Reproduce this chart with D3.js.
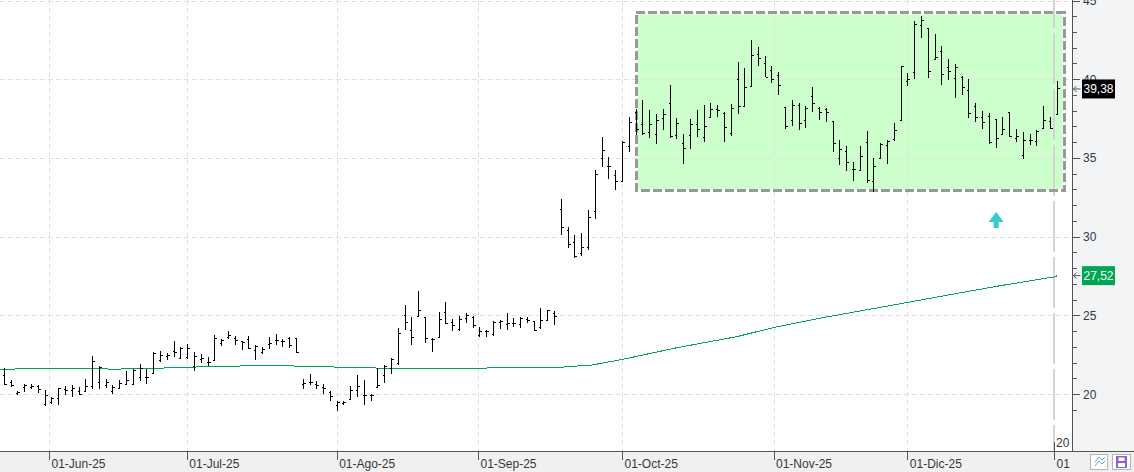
<!DOCTYPE html>
<html>
<head>
<meta charset="utf-8">
<script src="https://cdn.jsdelivr.net/npm/d3@7"></script>
<style>
  html, body { margin: 0; padding: 0; background: #fff; overflow: hidden; }
  svg { display: block; }
  text { font-family: "Liberation Sans", sans-serif; font-size: 12px; fill: #33383f; }
</style>
</head>
<body>
<div id="chart"></div>
<script>
// OHLC, one entry per session
const opens = [21.2,20.71,20.04,20.42,20.42,20.5,19.32,19.44,19.72,20.29,20.21,20.14,20.19,20.46,20.71,20.55,20.14,20.33,20.63,20.63,21.05,21.05,21.31,22.15,22.37,22.73,22.26,22.3,21.77,22.2,22.03,22.11,23.21,23.6,23.51,23.34,23.47,22.79,22.66,23.13,23.43,23.32,23.51,23.51,
  20.63,20.76,20.63,20.42,20.12,19.28,19.42,19.65,20.25,19.93,19.89,20.42,21.2,21.63,21.94,24.97,24.06,24.95,24.87,23.47,23.6,25.19,24.53,24.1,24.8,24.87,23.74,24.0,23.76,24.53,24.44,24.49,24.44,24.74,24.61,24.21,24.7,25.12,
  31.72,30.39,29.63,28.9,29.31,31.6,34.97,34.46,33.89,33.53,35.71,37.9,37.13,36.62,36.49,37.51,38.46,36.45,35.92,36.43,37.13,36.3,37.57,38.06,37.85,36.56,39.99,38.25,39.56,41.6,41.0,40.58,40.26,38.21,37.4,38.36,37.36,38.89,38.14,38.08,37.3,34.97,35.39,34.27,34.22,35.98,33.53,
  34.97,35.77,36.15,37.36,39.88,40.43,43.44,43.23,41.22,41.75,40.73,40.05,40.1,39.27,38.29,37.57,37.6,37.47,36.49,37.89,36.24,35.16,36.13,36.03,36.85,37.3,37.78];
const highs = [21.63,20.88,20.2,20.63,20.63,20.57,20.25,19.78,20.35,20.5,20.55,20.42,20.95,22.41,21.77,20.95,20.55,20.88,21.43,21.58,21.9,21.56,22.64,22.71,22.6,23.36,22.98,23.17,22.64,22.54,22.32,23.72,23.51,23.98,23.68,23.34,23.68,23.09,23.0,23.6,23.81,23.51,23.6,23.51,
  20.97,21.24,20.8,20.61,20.16,19.53,19.53,20.5,21.2,20.88,19.99,21.63,21.84,22.28,24.17,25.65,24.87,26.54,24.87,23.53,25.19,25.82,24.74,24.95,25.12,24.95,24.23,24.06,24.61,24.7,25.12,24.8,24.87,24.91,24.63,25.44,25.33,25.27,
  32.38,30.6,30.09,30.22,31.68,34.22,36.32,35.05,34.22,36.05,37.57,38.08,38.67,38.04,37.78,38.1,39.63,37.53,36.51,37.47,38.04,38.36,38.46,38.36,37.91,38.42,41.09,40.71,42.49,42.04,41.47,40.84,40.45,38.21,38.67,38.46,38.29,39.48,38.21,38.14,37.32,36.13,35.75,34.71,35.75,36.68,34.97,
  35.92,36.13,37.19,40.84,40.37,43.7,44.01,43.23,42.85,42.08,41.26,40.94,40.18,39.99,38.46,37.95,37.83,37.47,37.57,37.89,36.81,36.64,36.49,36.75,38.29,37.59,39.88];
const lows = [20.55,20.46,19.91,20.14,20.29,20.04,19.25,19.34,19.32,19.93,19.78,19.93,20.14,20.29,20.33,20.4,19.99,20.29,20.57,20.57,20.84,20.63,21.31,22.05,22.15,22.37,22.2,22.24,21.48,21.94,21.77,22.07,23.05,23.47,23.13,22.79,22.88,22.15,22.56,22.88,23.13,22.96,22.92,22.58,
  20.33,20.59,20.29,20.02,19.57,18.93,19.32,19.61,19.78,19.29,19.57,20.42,20.71,21.26,21.86,24.06,23.13,24.91,23.26,22.68,23.6,24.42,24.02,24.02,24.53,24.21,23.6,23.62,23.7,24.13,24.08,24.27,24.21,24.51,24.02,24.15,24.66,24.4,
  30.09,29.29,28.67,28.78,29.14,31.1,34.44,33.67,32.95,33.48,35.39,36.45,36.43,36.28,35.88,36.77,36.28,36.2,34.61,35.56,36.32,36.0,37.55,37.6,36.0,36.39,37.78,38.21,39.52,40.86,40.11,39.78,38.99,36.85,37.02,36.77,36.89,37.93,37.4,37.28,35.37,34.54,34.14,33.53,34.16,33.42,32.85,
  34.95,34.63,36.09,37.32,39.56,40.01,42.64,40.07,41.2,39.63,39.95,38.82,38.99,37.53,37.3,36.85,35.9,35.64,36.43,36.3,36.03,34.95,35.84,35.77,36.81,36.83,37.74];
const closes = [20.6,20.55,20.08,20.55,20.5,20.29,19.9,19.7,20.33,20.2,20.33,20.0,20.46,22.09,21.69,20.76,20.42,20.67,20.84,21.52,21.63,21.07,22.58,22.47,22.47,22.64,22.9,22.9,22.37,22.26,22.03,23.53,23.38,23.74,23.38,23.3,22.88,23.0,22.83,23.21,23.38,23.32,23.1,22.62,
  20.67,20.72,20.55,20.38,19.82,19.44,19.44,20.25,20.46,19.93,19.93,20.57,21.77,22.2,23.85,24.53,23.6,25.29,23.51,23.49,24.74,24.49,24.36,24.74,24.99,24.38,24.0,23.98,24.53,24.59,24.49,24.47,24.8,24.7,24.06,24.7,25.29,24.95,
  30.58,29.5,28.72,29.31,31.22,33.95,35.47,34.46,33.5,35.96,37.26,36.8,36.56,37.13,37.4,37.76,36.34,37.19,35.6,37.13,36.81,37.0,38.08,38.04,36.94,38.14,38.29,39.48,41.53,41.32,40.11,39.99,39.61,36.98,38.33,37.19,38.17,38.46,37.87,37.87,35.92,35.54,34.71,34.27,35.11,33.57,34.48,
  35.86,36.05,36.77,40.79,39.99,43.5,43.72,40.5,41.39,40.3,40.47,40.73,39.48,37.83,37.57,37.28,35.98,36.24,36.81,36.34,36.34,36.09,36.13,36.66,37.36,36.87,39.38];

// green average, knots by session number
const avgIdx = [-1,5.3,10.5,16.4,23.5,27.6,33.5,37.5,42.5,47.5,52.5,62.5,81.6,83.4,85.5,86.5,91,99,107.8,113.4,120.1,133,141.1,146.6,154.7,155];
const avgVal = [21.58,21.6,21.62,21.58,21.65,21.71,21.76,21.82,21.78,21.73,21.66,21.62,21.69,21.75,21.82,21.84,22.2,22.94,23.64,24.24,24.82,25.82,26.46,26.88,27.45,27.52];

const monthPos = [6.65,26.94,49,69.8,91,113.3,133,154.6];
const monthLabels = ["01-Jun-25","01-Jul-25","01-Ago-25","01-Sep-25","01-Oct-25","01-Nov-25","01-Dic-25","01"];
const priceTicks = [20,25,30,35,40,45];
const minorTicks = d3.range(19,46);

const lastClose = 39.38;
const lastAvg = 27.52;
const boxFrom = 93, boxTo = 156, boxTop = 44.22, boxBottom = 32.94;
const arrowIdx = 146, arrowPrice = 31.09;

const width = 1134, height = 472;
const axisX = 1072.5, axisY = 451.5;

const x = d3.scaleLinear().domain([0,155]).range([4.3,1057.3]);
const y = d3.scaleLinear().domain([20,45]).range([394,0.5]);
const snap = v => Math.floor(v) + 0.5;
const snapGrid = v => Math.round(v) + 0.5;

const svg = d3.select("#chart").append("svg")
  .attr("width", width).attr("height", height);

// panels
svg.append("rect").attr("x", axisX).attr("y", 0).attr("width", width-axisX).attr("height", height).attr("fill", "#f3f4f6");
svg.append("rect").attr("x", 0).attr("y", axisY).attr("width", width).attr("height", height-axisY).attr("fill", "#f0f0f0");

// highlighted box fill
svg.append("rect")
  .attr("x", x(boxFrom)+1.5).attr("y", y(boxTop)+1.5)
  .attr("width", x(boxTo)-x(boxFrom)-3).attr("height", y(boxBottom)-y(boxTop)-3)
  .attr("fill", "#ccffcc");

// grid
const grid = svg.append("g").attr("stroke", "#e1e1e1").attr("stroke-dasharray", "5,3").attr("shape-rendering", "crispEdges");
grid.selectAll(".h").data(priceTicks).join("line")
  .attr("x1", 0).attr("x2", axisX)
  .attr("y1", d => snapGrid(y(d))).attr("y2", d => snapGrid(y(d)));
grid.selectAll(".v").data(monthPos.slice(0,-1)).join("line")
  .attr("x1", d => snap(x(d))).attr("x2", d => snap(x(d)))
  .attr("y1", 0).attr("y2", axisY);

// last session marker
svg.append("line")
  .attr("x1", Math.floor(x(monthPos[7]))).attr("x2", Math.floor(x(monthPos[7])))
  .attr("y1", 0).attr("y2", axisY)
  .attr("stroke", "#d4d4d4").attr("stroke-width", 2).attr("stroke-dasharray", "51,5").attr("stroke-dashoffset", 23).attr("shape-rendering", "crispEdges");

// box border
svg.append("rect")
  .attr("x", x(boxFrom)).attr("y", y(boxTop))
  .attr("width", x(boxTo)-x(boxFrom)).attr("height", y(boxBottom)-y(boxTop))
  .attr("fill", "none").attr("stroke", "#999999").attr("stroke-width", 3).attr("stroke-dasharray", "9,3")
  .attr("shape-rendering", "crispEdges");

// average
const avgLine = d3.line().x(d => x(d[0])).y(d => y(d[1]));
svg.append("path")
  .datum(d3.zip(avgIdx, avgVal))
  .attr("d", avgLine)
  .attr("fill", "none").attr("stroke", "#00a651").attr("stroke-width", 1)
  .attr("shape-rendering", "crispEdges");

// bars
const bars = svg.append("g").attr("stroke", "#000").attr("shape-rendering", "crispEdges");
const sessions = d3.range(opens.length);
bars.selectAll(".hl").data(sessions).join("line")
  .attr("x1", i => snap(x(i))).attr("x2", i => snap(x(i)))
  .attr("y1", i => Math.round(y(highs[i]))).attr("y2", i => Math.round(y(lows[i])));
bars.selectAll(".op").data(sessions).join("line")
  .attr("x1", i => snap(x(i))-2).attr("x2", i => snap(x(i)))
  .attr("y1", i => snap(y(opens[i]))).attr("y2", i => snap(y(opens[i])));
bars.selectAll(".cl").data(sessions).join("line")
  .attr("x1", i => snap(x(i))).attr("x2", i => snap(x(i))+2)
  .attr("y1", i => snap(y(closes[i]))).attr("y2", i => snap(y(closes[i])));

// signal arrow
const ax = x(arrowIdx), ay = y(arrowPrice);
svg.append("path")
  .attr("d", `M${ax},${ay-7.5} L${ax+7.5},${ay+2.5} L${ax+2.5},${ay+2.5} L${ax+2.5},${ay+8.5} L${ax-2.5},${ay+8.5} L${ax-2.5},${ay+2.5} L${ax-7.5},${ay+2.5} Z`)
  .attr("fill", "#33cccc");

// axes
const axisStyle = g => g.attr("stroke", "#555").attr("shape-rendering", "crispEdges");
const axes = svg.append("g").call(axisStyle);
axes.append("line").attr("x1", axisX).attr("x2", axisX).attr("y1", 0).attr("y2", axisY);
axes.append("line").attr("x1", 0).attr("x2", width).attr("y1", axisY).attr("y2", axisY);
axes.selectAll(".minor").data(minorTicks).join("line")
  .attr("x1", axisX).attr("x2", d => axisX + (d % 5 === 0 ? 7 : 4))
  .attr("y1", d => snapGrid(y(d))).attr("y2", d => snapGrid(y(d)));
axes.selectAll(".mt").data(monthPos).join("line")
  .attr("x1", d => snap(x(d))).attr("x2", d => snap(x(d)))
  .attr("y1", (d,i) => i === 7 ? 442 : axisY).attr("y2", 460);

svg.selectAll(".pl").data(priceTicks).join("text")
  .attr("x", 1083).attr("y", d => y(d)+4.5).text(d => d);
svg.selectAll(".ml").data(monthPos).join("text")
  .attr("x", d => x(d)+2).attr("y", 468)
  .text((d,i) => monthLabels[i]);
svg.append("text").attr("x", 1056).attr("y", 447).text("20");

// price flags
function flag(val, bg) {
  const cy = y(val);
  svg.append("rect").attr("x", 1082).attr("y", cy-9.5).attr("width", 33).attr("height", 19).attr("fill", bg);
  svg.append("text").attr("x", 1098.5).attr("y", cy+4.5).attr("text-anchor", "middle").style("fill", "#fff").text(String(val).replace(".", ","));
  svg.append("path").attr("d", `M${axisX+8},${cy} H${axisX+1} M${axisX+4},${cy-3} L${axisX+1},${cy} L${axisX+4},${cy+3}`)
    .attr("fill", "none").attr("stroke", "#555");
}
flag(lastClose, "#000");
flag(lastAvg, "#00a651");

// the two buttons bottom right
const btn = svg.append("g");
btn.append("rect").attr("x", 1090.5).attr("y", 454.5).attr("width", 17).attr("height", 15).attr("fill", "#fff").attr("stroke", "#b5b5b5");
btn.append("rect").attr("x", 1112.5).attr("y", 454.5).attr("width", 18).attr("height", 15).attr("fill", "#fff").attr("stroke", "#b5b5b5");
btn.append("path").attr("d", "M1095,462 L1099,457 L1102,460 L1105,457 M1095,466 L1099,461 L1102,464 L1105,461").attr("fill", "none").attr("stroke", "#6aa6d8");
btn.append("path").attr("d", "M1116,456 H1127 V468 H1116 Z M1118.5,457.5 V461 H1124.5 V457.5 Z M1118,463 V467 H1125 V463 Z").attr("fill", "#8e63c7").attr("fill-rule", "evenodd");
</script>
</body>
</html>
